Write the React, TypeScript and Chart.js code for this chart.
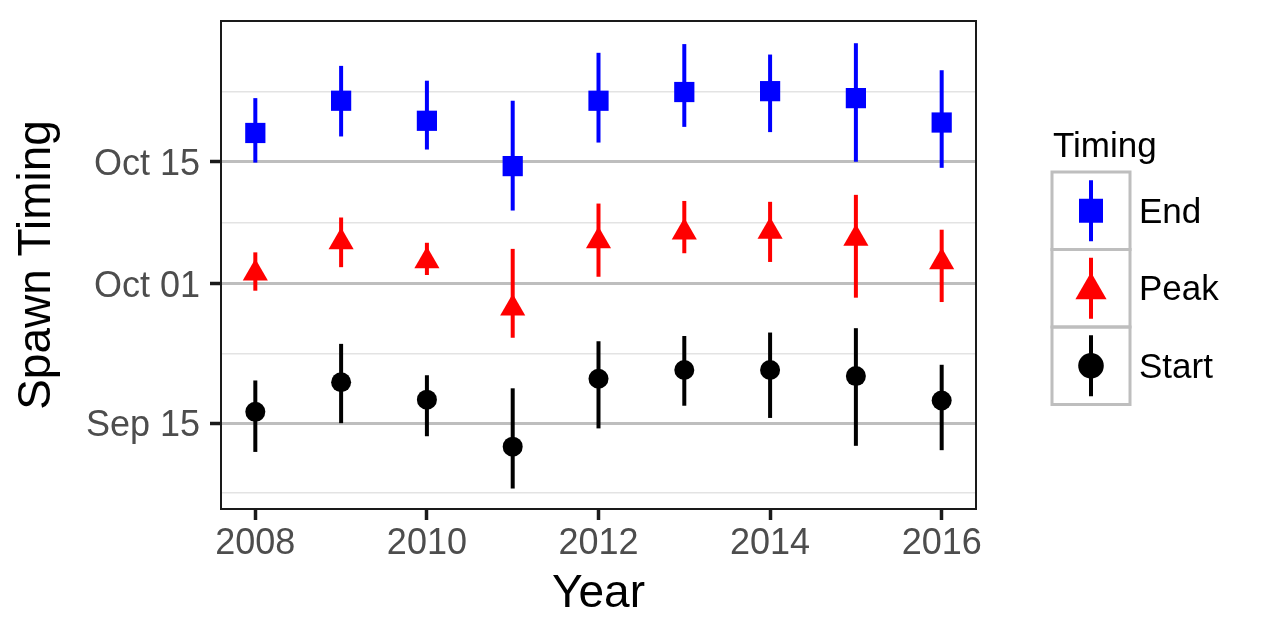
import React, { useEffect, useRef } from 'react';
import { Chart, registerables } from 'chart.js';

Chart.register(...registerables);

// Years (x axis)
const years = [2008, 2009, 2010, 2011, 2012, 2013, 2014, 2015, 2016];
const xTicks = [2008, 2010, 2012, 2014, 2016];

// Spawn timing, in days after Sep 1 (Sep 15 = 14, Oct 01 = 30, Oct 15 = 44)
const endMid = [47.3, 51.0, 48.7, 43.5, 51.0, 52.0, 52.1, 51.3, 48.5];
const endLo = [43.9, 46.9, 45.4, 38.4, 46.2, 48.0, 47.4, 44.0, 43.3];
const endHi = [51.3, 55.0, 53.3, 51.0, 56.5, 57.5, 56.3, 57.6, 54.5];

const peakMid = [31.2, 34.8, 32.6, 27.2, 34.9, 35.9, 36.0, 35.2, 32.5];
const peakLo = [29.2, 31.9, 31.0, 23.8, 30.8, 33.5, 32.5, 28.4, 27.9];
const peakHi = [33.6, 37.6, 34.7, 34.0, 39.2, 39.5, 39.4, 40.2, 36.2];

const startMid = [15.3, 18.7, 16.7, 11.3, 19.1, 20.1, 20.1, 19.4, 16.6];
const startLo = [10.7, 14.0, 12.5, 6.5, 13.4, 16.0, 14.6, 11.4, 10.9];
const startHi = [18.9, 23.1, 19.5, 18.0, 23.4, 24.0, 24.4, 24.9, 20.7];

// y-axis breaks (major with labels, minor without)
const yMajorValues = [14, 30, 44];
const yMajorLabels = ['Sep 15', 'Oct 01', 'Oct 15'];
const yMinorValues = [6, 22, 37, 52];

const seriesNames = ['End', 'Peak', 'Start'];
const seriesColors = ['#0000ff', '#ff0000', '#000000'];

const FONT = "'Liberation Sans', Arial, Helvetica, sans-serif";

const isMajor = (v: number) => yMajorValues.includes(v);

function drawShape(ctx: CanvasRenderingContext2D, shape: string, x: number, y: number, r: number) {
  ctx.beginPath();
  if (shape === 'rect') {
    const s = r;
    ctx.rect(x - s, y - s, 2 * s, 2 * s);
  } else if (shape === 'triangle') {
    ctx.moveTo(x, y - r);
    ctx.lineTo(x + Math.sin((2 * Math.PI) / 3) * r, y + r / 2);
    ctx.lineTo(x - Math.sin((2 * Math.PI) / 3) * r, y + r / 2);
    ctx.closePath();
  } else {
    ctx.arc(x, y, r, 0, Math.PI * 2);
  }
  ctx.fill();
}

export default function App() {
  const ref = useRef<HTMLCanvasElement | null>(null);

  useEffect(() => {
    if (!ref.current) return;
    const mids = [endMid, peakMid, startMid];
    const los = [endLo, peakLo, startLo];
    const his = [endHi, peakHi, startHi];
    const shapes = ['rect', 'triangle', 'circle'];
    const radii = [14.3, 14.5, 10];

    const errorBars = {
      id: 'errorBars',
      beforeDatasetsDraw(chart: any) {
        const ctx = chart.ctx;
        const xs = chart.scales.x;
        const ys = chart.scales.y;
        ctx.save();
        ctx.lineWidth = 4;
        ctx.lineCap = 'butt';
        for (let s = 0; s < 3; s++) {
          ctx.strokeStyle = seriesColors[s];
          years.forEach((yr, i) => {
            const x = xs.getPixelForValue(yr);
            ctx.beginPath();
            ctx.moveTo(x, ys.getPixelForValue(los[s][i]));
            ctx.lineTo(x, ys.getPixelForValue(his[s][i]));
            ctx.stroke();
          });
        }
        ctx.restore();
      },
    };

    const panelAndLegend = {
      id: 'panelAndLegend',
      afterDraw(chart: any) {
        const ctx = chart.ctx;
        const a = chart.chartArea;
        ctx.save();
        // panel border
        ctx.strokeStyle = '#1a1a1a';
        ctx.lineWidth = 2;
        ctx.strokeRect(a.left, a.top, a.right - a.left, a.bottom - a.top);

        // legend
        const lx = 1052;
        const lw = 78;
        const top0 = 172;
        const kh = 77.5;
        ctx.fillStyle = '#000';
        ctx.font = `35px ${FONT}`;
        ctx.textAlign = 'left';
        ctx.textBaseline = 'alphabetic';
        ctx.fillText('Timing', 1053, 156.5);
        const lRadii = [12, 18, 12.8];
        for (let i = 0; i < 3; i++) {
          const t = top0 + i * kh;
          const cy = t + kh / 2;
          const cx = lx + lw / 2;
          ctx.strokeStyle = '#bebebe';
          ctx.lineWidth = 3;
          ctx.strokeRect(lx, t, lw, kh);
          ctx.strokeStyle = seriesColors[i];
          ctx.lineWidth = 4;
          ctx.beginPath();
          ctx.moveTo(cx, cy - 30.5);
          ctx.lineTo(cx, cy + 30.5);
          ctx.stroke();
          ctx.fillStyle = seriesColors[i];
          drawShape(ctx, shapes[i], cx, i === 1 ? cy + 2 : cy, lRadii[i]);
          ctx.fillStyle = '#000';
          ctx.textBaseline = 'middle';
          ctx.fillText(seriesNames[i], 1139, cy + 2.5);
        }
        ctx.restore();
      },
    };

    const chart = new Chart(ref.current, {
      type: 'scatter',
      data: {
        datasets: seriesNames.map((name, s) => ({
          label: name,
          data: years.map((yr, i) => ({ x: yr, y: mids[s][i] })),
          backgroundColor: seriesColors[s],
          borderWidth: 0,
          pointStyle: shapes[s] as any,
          pointRadius: radii[s],
          pointHoverRadius: radii[s],
        })),
      },
      options: {
        animation: false,
        responsive: false,
        events: [],
        layout: { padding: { left: 0, top: 21, right: 291, bottom: 0 } },
        plugins: {
          legend: { display: false },
          tooltip: { enabled: false },
        },
        scales: {
          x: {
            type: 'linear',
            min: 2007.6,
            max: 2016.4,
            afterBuildTicks: (scale: any) => {
              scale.ticks = xTicks.map((v) => ({ value: v }));
            },
            afterFit: (scale: any) => {
              scale.height = 124;
              scale.paddingLeft = 0;
              scale.paddingRight = 0;
            },
            border: { display: false },
            grid: {
              drawOnChartArea: false,
              drawTicks: true,
              tickLength: 11,
              tickColor: '#1a1a1a',
              tickWidth: 3.5,
            },
            ticks: {
              autoSkip: false,
              maxRotation: 0,
              padding: 2,
              color: '#4d4d4d',
              font: { family: FONT, size: 36 },
              callback: (v: any) => String(v),
            },
            title: {
              display: true,
              text: 'Year',
              color: '#000',
              font: { family: FONT, size: 46 },
              padding: { top: 0, bottom: 11 },
            },
          },
          y: {
            type: 'linear',
            min: 4.15,
            max: 60.15,
            afterBuildTicks: (scale: any) => {
              scale.ticks = [...yMinorValues, ...yMajorValues]
                .sort((a, b) => a - b)
                .map((v) => ({ value: v }));
            },
            afterFit: (scale: any) => {
              scale.width = 221;
              scale.paddingTop = 0;
              scale.paddingBottom = 0;
            },
            border: { display: false },
            grid: {
              drawTicks: true,
              tickLength: 11,
              color: (c: any) => (isMajor(c.tick?.value) ? '#bebebe' : '#e3e3e3'),
              lineWidth: (c: any) => (isMajor(c.tick?.value) ? 3 : 1.5),
              tickColor: (c: any) => (isMajor(c.tick?.value) ? '#1a1a1a' : 'rgba(0,0,0,0)'),
              tickWidth: 3.5,
            },
            ticks: {
              autoSkip: false,
              padding: 10,
              labelOffset: 3,
              color: '#4d4d4d',
              font: { family: FONT, size: 36 },
              callback: (v: any) => {
                const k = yMajorValues.indexOf(Number(v));
                return k >= 0 ? yMajorLabels[k] : '';
              },
            },
            title: {
              display: true,
              text: 'Spawn Timing',
              color: '#000',
              font: { family: FONT, size: 46 },
              padding: { top: 10, bottom: 0 },
            },
          },
        },
      } as any,
      plugins: [errorBars, panelAndLegend],
    });
    return () => chart.destroy();
  }, []);

  return (
    <div style={{ position: 'absolute', left: 0, top: 0, width: 1267, height: 633, background: '#fff' }}>
      <canvas ref={ref} width={1267} height={633} style={{ width: 1267, height: 633 }} />
    </div>
  );
}
